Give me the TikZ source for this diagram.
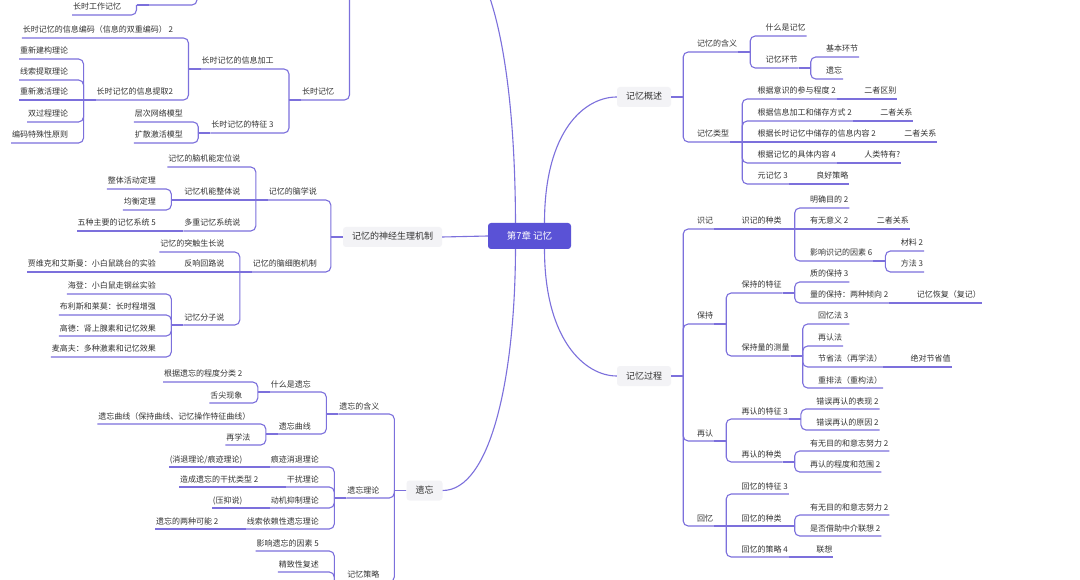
\documentclass[tikz,border=0pt]{standalone}
\usepackage{fontspec}
\setmainfont{Noto Sans CJK SC}
\definecolor{linkc}{RGB}{124,112,220}
\definecolor{txt}{RGB}{51,51,51}
\definecolor{catfill}{RGB}{243,243,246}
\definecolor{rootfill}{RGB}{90,82,214}
\tikzset{
  topic/.style={font=\fontsize{8}{9.6}\selectfont, text=txt, inner xsep=1pt, inner ysep=4pt,
    text height=7pt, text depth=1pt, outer sep=0pt},
  rt/.style={topic, anchor=south west},
  lt/.style={topic, anchor=south east},
  cat/.style={fill=catfill, rounded corners=3pt, font=\fontsize{9}{10.8}\selectfont, text=txt,
    inner xsep=9pt, minimum height=20pt, text height=7.5pt, text depth=1.5pt},
  root/.style={fill=rootfill, rounded corners=3pt, font=\fontsize{9.5}{11.4}\selectfont, text=white,
    minimum width=83pt, minimum height=26pt},
  link/.style={draw=linkc, line width=1.1pt}
}
\newcommand\kidgap{26.5pt}
% bracket from a parent's end to a child on the right / on the left
\newcommand\rlink[2]{\draw[link] (#1) -- ++(12pt,0);
  \draw[link, rounded corners=5pt] ([xshift=12pt]#1) |- (#2.south east);}
\newcommand\llink[2]{\draw[link] (#1) -- ++(-12pt,0);
  \draw[link, rounded corners=5pt] ([xshift=-12pt]#1) |- (#2.south west);}
% child on the same row as its parent
\newcommand\rnext[2]{\draw[link] (#1.south east) -- (#2.south east);}
\newcommand\lnext[2]{\draw[link] (#1.south west) -- (#2.south west);}
\begin{document}
\begin{tikzpicture}[x=1pt, y=-1pt]
\fill[white] (0,0) rectangle (1080,580);
\useasboundingbox (0,0) rectangle (1080,580);

% central topic and main branches
\node[root] (root) at (529.5,236) {第7章 记忆};
\node[cat] (gs) at (644,97) {记忆概述};
\node[cat] (proc) at (644,376) {记忆过程};
\node[cat] (neuro) at (392.5,237) {记忆的神经生理机制};
\node[cat] (forget) at (424.5,490.5) {遗忘};
\coordinate (sysbox) at (440,-60);
\coordinate (sys) at (361.5,-60);
\coordinate (stm) at (209,-30);

\draw[link] ([xshift=-14pt]root.north) .. controls (515,60) and (490,-60) .. (sysbox);
\draw[link] ([xshift=15pt]root.north) .. controls (544.5,130) and (585,97) .. (gs.west);
\draw[link] ([xshift=15pt]root.south) .. controls (544.5,340) and (585,376) .. (proc.west);
\draw[link] ([xshift=-14pt]root.south) .. controls (515,380) and (490,490.5) .. (forget.east);
\draw[link] (root.west) -- (neuro.east);

% 记忆概述
\node[rt] (mean) at ([xshift=25pt]gs.east |- 0,52) {记忆的含义};
\node[rt] (types) at ([xshift=25pt]gs.east |- 0,142) {记忆类型};
\node[rt] (what) at ([xshift=\kidgap]mean.south east |- 0,36) {什么是记忆};
\node[rt] (stages) at ([xshift=\kidgap]mean.south east |- 0,68) {记忆环节};
\node[rt] (basic) at ([xshift=\kidgap]stages.south east |- 0,57) {基本环节};
\node[rt] (forg) at ([xshift=\kidgap]stages.south east |- 0,79) {遗忘};
\node[rt] (t1) at ([xshift=\kidgap]types.south east |- 0,99) {根据意识的参与程度 2};
\node[rt] (t2) at ([xshift=\kidgap]types.south east |- 0,121) {根据信息加工和储存方式 2};
\node[rt] (t3) at ([xshift=\kidgap]types.south east) {根据长时记忆中储存的信息内容 2};
\node[rt] (t4) at ([xshift=\kidgap]types.south east |- 0,163) {根据记忆的具体内容 4};
\node[rt] (t5) at ([xshift=\kidgap]types.south east |- 0,184) {元记忆 3};
\node[rt] (t1a) at ([xshift=\kidgap]t1.south east) {二者区别};
\node[rt] (t2a) at ([xshift=\kidgap]t2.south east) {二者关系};
\node[rt] (t3a) at ([xshift=\kidgap]t3.south east) {二者关系};
\node[rt] (t4a) at ([xshift=\kidgap]t4.south east) {人类特有?};
\node[rt] (t5a) at ([xshift=\kidgap]t5.south east) {良好策略};

% 记忆过程
\node[rt] (enc) at ([xshift=25pt]proc.east |- 0,229) {识记};
\node[rt] (keep) at ([xshift=25pt]proc.east |- 0,324) {保持};
\node[rt] (recog) at ([xshift=25pt]proc.east |- 0,441) {再认};
\node[rt] (recall) at ([xshift=25pt]proc.east |- 0,526) {回忆};
\node[rt] (encK) at ([xshift=\kidgap]enc.south east) {识记的种类};
\node[rt] (k1) at ([xshift=\kidgap]encK.south east |- 0,208) {明确目的 2};
\node[rt] (k2) at ([xshift=\kidgap]encK.south east) {有无意义 2};
\node[rt] (k2a) at ([xshift=\kidgap]k2.south east) {二者关系};
\node[rt] (k3) at ([xshift=\kidgap]encK.south east |- 0,261) {影响识记的因素 6};
\node[rt] (k3a) at ([xshift=\kidgap]k3.south east |- 0,251) {材料 2};
\node[rt] (k3b) at ([xshift=\kidgap]k3.south east |- 0,272) {方法 3};
\node[rt] (keepF) at ([xshift=\kidgap]keep.south east |- 0,293) {保持的特征};
\node[rt] (keepM) at ([xshift=\kidgap]keep.south east |- 0,356) {保持量的测量};
\node[rt] (q1) at ([xshift=\kidgap]keepF.south east |- 0,282) {质的保持 3};
\node[rt] (q2) at ([xshift=\kidgap]keepF.south east |- 0,303) {量的保持：两种倾向 2};
\node[rt] (q2a) at ([xshift=\kidgap]q2.south east) {记忆恢复（复记）};
\node[rt] (m1) at ([xshift=\kidgap]keepM.south east |- 0,324) {回忆法 3};
\node[rt] (m2) at ([xshift=\kidgap]keepM.south east |- 0,346) {再认法};
\node[rt] (m3) at ([xshift=\kidgap]keepM.south east |- 0,367) {节省法（再学法）};
\node[rt] (m3a) at ([xshift=\kidgap]m3.south east) {绝对节省值};
\node[rt] (m4) at ([xshift=\kidgap]keepM.south east |- 0,388) {重排法（重构法）};
\node[rt] (rf) at ([xshift=\kidgap]recog.south east |- 0,419) {再认的特征 3};
\node[rt] (rk) at ([xshift=\kidgap]recog.south east |- 0,462) {再认的种类};
\node[rt] (rf1) at ([xshift=\kidgap]rf.south east |- 0,409) {错误再认的表现 2};
\node[rt] (rf2) at ([xshift=\kidgap]rf.south east |- 0,430) {错误再认的原因 2};
\node[rt] (rk1) at ([xshift=\kidgap]rk.south east |- 0,451) {有无目的和意志努力 2};
\node[rt] (rk2) at ([xshift=\kidgap]rk.south east |- 0,472) {再认的程度和范围 2};
\node[rt] (cf) at ([xshift=\kidgap]recall.south east |- 0,494) {回忆的特征 3};
\node[rt] (ck) at ([xshift=\kidgap]recall.south east) {回忆的种类};
\node[rt] (cs) at ([xshift=\kidgap]recall.south east |- 0,557) {回忆的策略 4};
\node[rt] (ck1) at ([xshift=\kidgap]ck.south east |- 0,515) {有无目的和意志努力 2};
\node[rt] (ck2) at ([xshift=\kidgap]ck.south east |- 0,536) {是否借助中介联想 2};
\node[rt] (cs1) at ([xshift=\kidgap]cs.south east) {联想};

% 记忆的神经生理机制
\node[lt] (brain) at ([xshift=-25pt]neuro.west |- 0,200) {记忆的脑学说};
\node[lt] (cell) at ([xshift=-25pt]neuro.west |- 0,272) {记忆的脑细胞机制};
\node[lt] (b1) at ([xshift=-\kidgap]brain.south west |- 0,167) {记忆的脑机能定位说};
\node[lt] (b2) at ([xshift=-\kidgap]brain.south west) {记忆机能整体说};
\node[lt] (b3) at ([xshift=-\kidgap]brain.south west |- 0,231) {多重记忆系统说};
\node[lt] (b2a) at ([xshift=-\kidgap]b2.south west |- 0,189) {整体活动定理};
\node[lt] (b2b) at ([xshift=-\kidgap]b2.south west |- 0,210) {均衡定理};
\node[lt] (b3a) at ([xshift=-\kidgap]b3.south west) {五种主要的记忆系统 5};
\node[lt] (c1) at ([xshift=-\kidgap]cell.south west |- 0,252) {记忆的突触生长说};
\node[lt] (c2) at ([xshift=-\kidgap]cell.south west) {反响回路说};
\node[lt] (c2a) at ([xshift=-\kidgap]c2.south west) {贾维克和艾斯曼：小白鼠跳台的实验};
\node[lt] (c3) at ([xshift=-\kidgap]cell.south west |- 0,325) {记忆分子说};
\node[lt] (c3a) at ([xshift=-\kidgap]c3.south west |- 0,294) {海登：小白鼠走钢丝实验};
\node[lt] (c3b) at ([xshift=-\kidgap]c3.south west |- 0,315) {布利斯和莱莫：长时程增强};
\node[lt] (c3c) at ([xshift=-\kidgap]c3.south west |- 0,336) {高德：肾上腺素和记忆效果};
\node[lt] (c3d) at ([xshift=-\kidgap]c3.south west |- 0,357) {麦高夫：多种激素和记忆效果};

% 遗忘
\node[lt] (fmean) at ([xshift=-26pt]forget.west |- 0,414) {遗忘的含义};
\node[lt] (ftheory) at ([xshift=-26pt]forget.west |- 0,498) {遗忘理论};
\node[lt] (fstrat) at ([xshift=-26pt]forget.west |- 0,582) {记忆策略};
\node[lt] (fwhat) at ([xshift=-\kidgap]fmean.south west |- 0,392) {什么是遗忘};
\node[lt] (fcurve) at ([xshift=-\kidgap]fmean.south west |- 0,434) {遗忘曲线};
\node[lt] (fw1) at ([xshift=-\kidgap]fwhat.south west |- 0,382) {根据遗忘的程度分类 2};
\node[lt] (fw2) at ([xshift=-\kidgap]fwhat.south west |- 0,403) {舌尖现象};
\node[lt] (fc1) at ([xshift=-\kidgap]fcurve.south west |- 0,424) {遗忘曲线（保持曲线、记忆操作特征曲线）};
\node[lt] (fc2) at ([xshift=-\kidgap]fcurve.south west |- 0,445) {再学法};
\node[lt] (th1) at ([xshift=-\kidgap]ftheory.south west |- 0,467) {痕迹消退理论};
\node[lt] (th2) at ([xshift=-\kidgap]ftheory.south west |- 0,487) {干扰理论};
\node[lt] (th3) at ([xshift=-\kidgap]ftheory.south west |- 0,508) {动机抑制理论};
\node[lt] (th4) at ([xshift=-\kidgap]ftheory.south west |- 0,529) {线索依赖性遗忘理论};
\node[lt] (th1a) at ([xshift=-\kidgap]th1.south west) {(消退理论/痕迹理论)};
\node[lt] (th2a) at ([xshift=-\kidgap]th2.south west) {造成遗忘的干扰类型 2};
\node[lt] (th3a) at ([xshift=-\kidgap]th3.south west) {(压抑说)};
\node[lt] (th4a) at ([xshift=-\kidgap]th4.south west) {遗忘的两种可能 2};
\node[lt] (fs1) at ([xshift=-\kidgap]fstrat.south west |- 0,551) {影响遗忘的因素 5};
\node[lt] (fs2) at ([xshift=-\kidgap]fstrat.south west |- 0,572) {精致性复述};

% 长时记忆 (parent above the frame)
\node[lt] (ltm) at ([xshift=-\kidgap]sys |- 0,100) {长时记忆};
\node[lt] (lproc) at ([xshift=-\kidgap]ltm.south west |- 0,69) {长时记忆的信息加工};
\node[lt] (lfeat) at ([xshift=-\kidgap]ltm.south west |- 0,133) {长时记忆的特征 3};
\node[lt] (lp1) at ([xshift=-\kidgap]lproc.south west |- 0,38) {长时记忆的信息编码（信息的双重编码） 2};
\node[lt] (lp2) at ([xshift=-\kidgap]lproc.south west |- 0,100) {长时记忆的信息提取2};
\node[lt] (r1) at ([xshift=-\kidgap]lp2.south west |- 0,59) {重新建构理论};
\node[lt] (r2) at ([xshift=-\kidgap]lp2.south west |- 0,80) {线索提取理论};
\node[lt] (r3) at ([xshift=-\kidgap]lp2.south west) {重新激活理论};
\node[lt] (r4) at ([xshift=-\kidgap]lp2.south west |- 0,122) {双过程理论};
\node[lt] (r5) at ([xshift=-\kidgap]lp2.south west |- 0,143) {编码特殊性原则};
\node[lt] (f1) at ([xshift=-\kidgap]lfeat.south west |- 0,122) {层次网络模型};
\node[lt] (f2) at ([xshift=-\kidgap]lfeat.south west |- 0,143) {扩散激活模型};
\node[lt] (wm) at ([xshift=-\kidgap]stm |- 0,5) {工作记忆};
\node[lt] (lwm) at ([xshift=-\kidgap]wm.south west |- 0,15) {长时工作记忆};

% connectors, right side
\foreach \k in {mean,types} {\rlink{gs.east}{\k}}
\foreach \k in {what,stages} {\rlink{mean.south east}{\k}}
\foreach \k in {basic,forg} {\rlink{stages.south east}{\k}}
\foreach \k in {t1,t2,t4,t5} {\rlink{types.south east}{\k}}
\rnext{types}{t3}
\foreach \k in {t1,t2,t3,t4,t5} {\rnext{\k}{\k a}}
\foreach \k in {enc,keep,recog,recall} {\rlink{proc.east}{\k}}
\rnext{enc}{encK}
\foreach \k in {k1,k3} {\rlink{encK.south east}{\k}}
\rnext{encK}{k2}
\rnext{k2}{k2a}
\foreach \k in {k3a,k3b} {\rlink{k3.south east}{\k}}
\foreach \k in {keepF,keepM} {\rlink{keep.south east}{\k}}
\foreach \k in {q1,q2} {\rlink{keepF.south east}{\k}}
\rnext{q2}{q2a}
\foreach \k in {m1,m2,m3,m4} {\rlink{keepM.south east}{\k}}
\rnext{m3}{m3a}
\foreach \k in {rf,rk} {\rlink{recog.south east}{\k}}
\foreach \k in {rf1,rf2} {\rlink{rf.south east}{\k}}
\foreach \k in {rk1,rk2} {\rlink{rk.south east}{\k}}
\foreach \k in {cf,cs} {\rlink{recall.south east}{\k}}
\rnext{recall}{ck}
\foreach \k in {ck1,ck2} {\rlink{ck.south east}{\k}}
\rnext{cs}{cs1}

% connectors, left side
\foreach \k in {brain,cell} {\llink{neuro.west}{\k}}
\foreach \k in {b1,b3} {\llink{brain.south west}{\k}}
\lnext{brain}{b2}
\foreach \k in {b2a,b2b} {\llink{b2.south west}{\k}}
\lnext{b3}{b3a}
\foreach \k in {c1,c3} {\llink{cell.south west}{\k}}
\lnext{cell}{c2}
\lnext{c2}{c2a}
\foreach \k in {c3a,c3b,c3c,c3d} {\llink{c3.south west}{\k}}
\foreach \k in {fmean,ftheory,fstrat} {\llink{forget.west}{\k}}
\foreach \k in {fwhat,fcurve} {\llink{fmean.south west}{\k}}
\foreach \k in {fw1,fw2} {\llink{fwhat.south west}{\k}}
\foreach \k in {fc1,fc2} {\llink{fcurve.south west}{\k}}
\foreach \k in {th1,th2,th3,th4} {\llink{ftheory.south west}{\k} \lnext{\k}{\k a}}
\foreach \k in {fs1,fs2} {\llink{fstrat.south west}{\k}}
\llink{sys}{ltm}
\foreach \k in {lproc,lfeat} {\llink{ltm.south west}{\k}}
\foreach \k in {lp1,lp2} {\llink{lproc.south west}{\k}}
\foreach \k in {r1,r2,r4,r5} {\llink{lp2.south west}{\k}}
\lnext{lp2}{r3}
\foreach \k in {f1,f2} {\llink{lfeat.south west}{\k}}
\llink{stm}{wm}
\llink{wm.south west}{lwm}
\end{tikzpicture}
\end{document}
